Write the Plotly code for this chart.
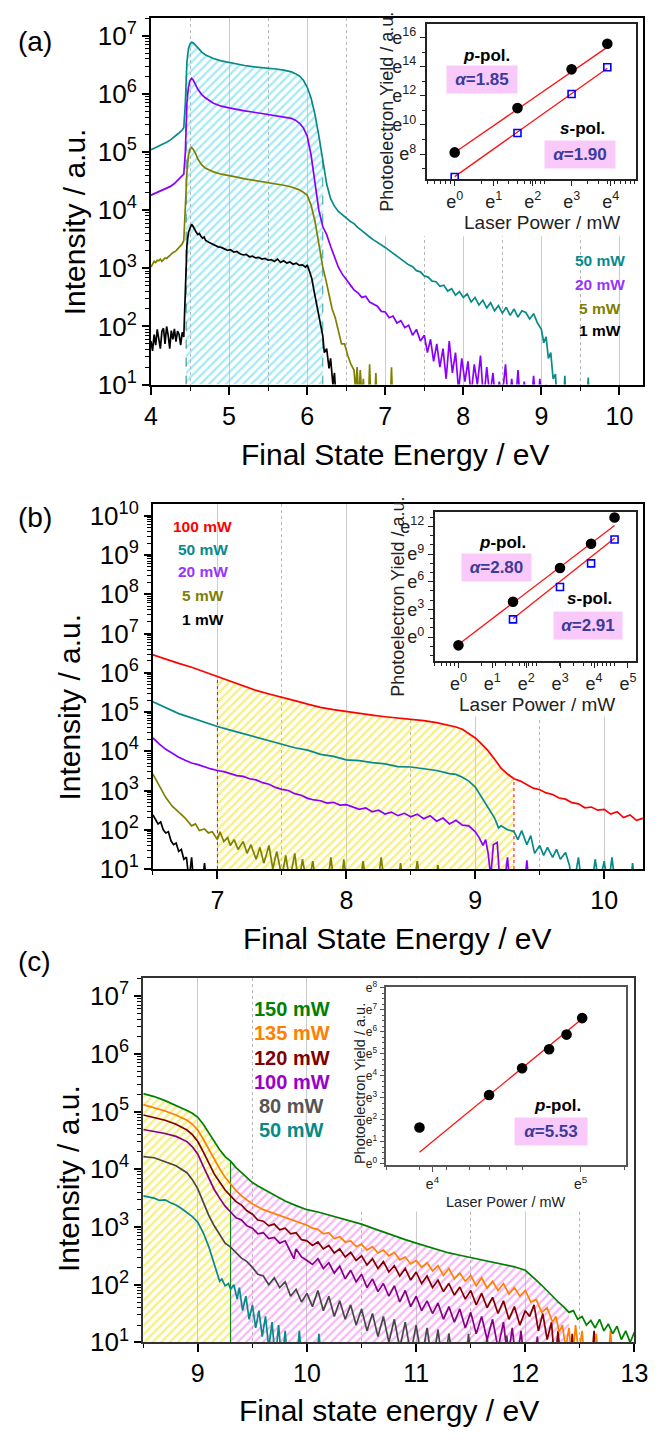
import numpy as np
import plotly.graph_objects as go

# ---------------------------------------------------------------------------
# Panel (a): photoemission spectra, 4-10 eV  (log10 of intensity)
# ---------------------------------------------------------------------------
a_energy_50 = [4.00, 4.05, 4.10, 4.15, 4.20, 4.25, 4.30, 4.35, 4.40, 4.42, 4.44, 4.45, 4.46, 4.48,
               4.50, 4.52, 4.54, 4.57, 4.60, 4.65, 4.70, 4.80, 4.90, 5.00, 5.10, 5.20, 5.30, 5.40,
               5.50, 5.60, 5.70, 5.80, 5.85, 5.90, 5.95, 6.00, 6.05, 6.10, 6.15, 6.20, 6.25, 6.30,
               6.35, 6.40, 6.45,
               6.50, 6.55, 6.60, 6.65, 6.70, 6.75, 6.80, 6.85, 6.90, 6.95, 7.00, 7.05, 7.10, 7.15,
               7.20, 7.25, 7.30, 7.35, 7.40, 7.45, 7.50, 7.55, 7.60, 7.65, 7.70, 7.75, 7.80, 7.85,
               7.90, 7.95, 8.00, 8.05, 8.10, 8.15, 8.20, 8.25, 8.30, 8.35, 8.40, 8.45, 8.50, 8.55,
               8.60, 8.65, 8.70, 8.75, 8.80, 8.85, 8.90, 8.95, 9.00, 9.03, 9.06, 9.09, 9.12, 9.15,
               9.18, 9.20, 9.28, 9.30, 9.32, 9.58, 9.60, 9.62]
a_log_50 = [5.04, 5.07, 5.10, 5.13, 5.17, 5.21, 5.26, 5.32, 5.38, 5.42, 5.85, 6.30, 6.55, 6.78,
            6.86, 6.89, 6.88, 6.84, 6.79, 6.72, 6.67, 6.61, 6.57, 6.54, 6.51, 6.49, 6.47, 6.46,
            6.45, 6.43, 6.41, 6.38, 6.35, 6.31, 6.24, 6.12, 5.93, 5.65, 5.28, 4.85, 4.45, 4.20,
            4.07, 3.98, 3.92,
            3.87, 3.81, 3.77, 3.70, 3.65, 3.59, 3.54, 3.49, 3.45, 3.40, 3.36, 3.31, 3.26, 3.22,
            3.16, 3.12, 3.06, 3.03, 2.96, 2.94, 2.87, 2.85, 2.78, 2.77, 2.69, 2.71, 2.61, 2.65,
            2.54, 2.60, 2.50, 2.56, 2.42, 2.50, 2.37, 2.45, 2.32, 2.41, 2.27, 2.36, 2.23, 2.33,
            2.19, 2.30, 2.16, 2.27, 2.24, 2.13, 2.22, 2.06, 1.95, 1.72, 1.82, 1.45, 1.55, 1.10,
            1.18, 0.70, 0.50, 1.15, 0.50, 0.50, 1.12, 0.50]

a_energy_20 = [4.00, 4.05, 4.10, 4.15, 4.20, 4.25, 4.30, 4.35, 4.40, 4.42, 4.44, 4.45, 4.46, 4.48,
               4.50, 4.52, 4.54, 4.57, 4.60, 4.65, 4.70, 4.80, 4.90, 5.00, 5.10, 5.20, 5.30, 5.40,
               5.50, 5.60, 5.70, 5.80, 5.85, 5.90, 5.95, 6.00, 6.05, 6.10, 6.15, 6.20,
               6.25, 6.30, 6.35, 6.40, 6.45, 6.50, 6.55, 6.60, 6.65, 6.70, 6.75, 6.80, 6.85, 6.90,
               6.95, 7.00, 7.05, 7.10, 7.15, 7.20, 7.25, 7.30, 7.35, 7.40, 7.45, 7.50,
               7.54, 7.58, 7.62, 7.66, 7.70, 7.74, 7.78, 7.82, 7.86, 7.90, 7.94, 7.98, 8.02, 8.06,
               8.10, 8.14, 8.18, 8.22, 8.26, 8.30, 8.34, 8.38, 8.42, 8.46, 8.50, 8.54, 8.58, 8.62,
               8.66, 8.70, 8.74, 8.78, 8.82, 8.86, 8.90, 8.94, 8.98, 9.02, 9.06, 9.10]
a_log_20 = [4.26, 4.29, 4.31, 4.34, 4.37, 4.41, 4.46, 4.52, 4.58, 4.62, 5.00, 5.50, 5.85, 6.12,
            6.23, 6.27, 6.24, 6.16, 6.08, 5.99, 5.93, 5.84, 5.79, 5.76, 5.73, 5.71, 5.69, 5.67,
            5.65, 5.63, 5.61, 5.58, 5.55, 5.50, 5.42, 5.28, 4.95, 4.45, 4.00, 3.72,
            3.58, 3.38, 3.20, 3.02, 2.90, 2.80, 2.72, 2.63, 2.58, 2.50, 2.52, 2.42, 2.38, 2.35,
            2.26, 2.25, 2.15, 2.18, 2.06, 2.10, 1.98, 2.02, 1.85, 1.95, 1.75, 1.85,
            1.55, 1.78, 1.40, 1.70, 1.30, 1.62, 1.10, 1.75, 1.20, 1.55, 0.90, 1.45, 1.05, 1.40,
            0.80, 1.35, 1.00, 1.50, 0.70, 1.30, 0.80, 1.20, 0.60, 1.05, 0.80, 1.35, 0.60, 1.10,
            0.50, 1.25, 0.50, 1.05, 0.60, 0.50, 1.15, 0.50, 1.10, 0.50, 1.00, 0.50]

a_energy_5 = [4.00, 4.02, 4.04, 4.06, 4.08, 4.10, 4.12, 4.14, 4.16, 4.18, 4.20, 4.24, 4.28, 4.32,
              4.36, 4.40, 4.42, 4.44, 4.45, 4.46, 4.48, 4.50, 4.52, 4.54, 4.57, 4.60, 4.65, 4.70,
              4.80, 4.90, 5.00, 5.10, 5.20, 5.30, 5.40, 5.50, 5.60, 5.70, 5.80, 5.85, 5.90, 5.95,
              6.00, 6.05, 6.10, 6.15, 6.20,
              6.24, 6.28, 6.32, 6.36, 6.40, 6.44, 6.48, 6.52, 6.56, 6.60, 6.62, 6.64, 6.66, 6.68,
              6.70, 6.72, 6.74, 6.78, 6.80, 6.82, 6.86, 6.88, 6.90, 7.06, 7.08, 7.10]
a_log_5 = [3.02, 3.08, 3.12, 3.10, 3.14, 3.13, 3.16, 3.12, 3.15, 3.18, 3.17, 3.22, 3.27, 3.30,
           3.36, 3.42, 3.48, 3.95, 4.35, 4.65, 4.95, 5.05, 5.08, 5.05, 4.98, 4.88, 4.78, 4.72,
           4.66, 4.62, 4.60, 4.57, 4.54, 4.52, 4.49, 4.47, 4.45, 4.43, 4.40, 4.38, 4.35, 4.31,
           4.26, 4.09, 3.81, 3.42, 3.02,
           2.80, 2.55, 2.30, 2.15, 1.90, 1.70, 1.70, 1.50, 1.35, 1.25, 0.90, 1.30, 0.70, 1.25,
           0.80, 1.10, 0.50, 0.50, 1.35, 0.50, 0.50, 1.20, 0.50, 0.50, 1.30, 0.50]

a_energy_1 = [4.00, 4.02, 4.04, 4.06, 4.08, 4.10, 4.12, 4.14, 4.16, 4.18, 4.20, 4.22, 4.24, 4.26,
              4.28, 4.30, 4.32, 4.34, 4.36, 4.38, 4.40, 4.42,
              4.44, 4.45, 4.46, 4.48, 4.50, 4.52, 4.54, 4.56, 4.58, 4.60, 4.62, 4.64, 4.66, 4.68,
              4.70,
              4.74, 4.78, 4.82, 4.86, 4.90, 4.94, 4.98, 5.02, 5.06, 5.10, 5.14, 5.18, 5.22, 5.26,
              5.30, 5.34, 5.38, 5.42, 5.46, 5.50, 5.54, 5.58, 5.62, 5.66, 5.70, 5.74, 5.78, 5.82,
              5.86, 5.90, 5.94, 5.98,
              6.00, 6.03, 6.06, 6.09, 6.12, 6.15, 6.18, 6.20, 6.22, 6.25, 6.28, 6.30, 6.33, 6.35,
              6.38]
a_log_1 = [1.75, 1.58, 1.86, 1.68, 1.95, 1.78, 1.62, 1.92, 1.97, 1.70, 2.00, 1.85, 1.62, 1.93,
           1.78, 1.96, 1.74, 1.92, 1.86, 1.68, 1.90, 1.82,
           2.60, 3.10, 3.40, 3.62, 3.70, 3.76, 3.72, 3.66, 3.62, 3.58, 3.60, 3.55, 3.52, 3.54,
           3.48,
           3.45, 3.42, 3.40, 3.37, 3.36, 3.33, 3.31, 3.32, 3.28, 3.29, 3.25, 3.23, 3.24, 3.20,
           3.21, 3.18, 3.19, 3.16, 3.17, 3.14, 3.15, 3.12, 3.16, 3.10, 3.13, 3.09, 3.11, 3.07,
           3.09, 3.05, 3.06, 3.02,
           3.06, 2.95, 2.82, 2.60, 2.40, 2.15, 1.95, 1.84, 1.55, 1.62, 1.28, 1.45, 1.00, 1.20,
           0.50]

# ---------------------------------------------------------------------------
# Panel (b): spectra, 6.5-10.3 eV
# ---------------------------------------------------------------------------
b_energy_100 = [6.50, 6.60, 6.70, 6.80, 6.90, 7.00, 7.10, 7.20, 7.30, 7.40, 7.50, 7.60, 7.70, 7.80,
                7.90, 8.00, 8.10, 8.20, 8.30, 8.40, 8.50, 8.60, 8.70, 8.80,
                8.85, 8.90, 8.95, 9.00, 9.05, 9.10, 9.15, 9.20, 9.25, 9.30, 9.35, 9.40, 9.45, 9.50,
                9.55, 9.60, 9.65, 9.70, 9.75, 9.80, 9.85, 9.90, 9.95, 10.00, 10.05, 10.10, 10.15,
                10.20, 10.25, 10.30]
b_log_100 = [6.46, 6.34, 6.24, 6.14, 6.02, 5.89, 5.77, 5.65, 5.55, 5.46, 5.38, 5.29, 5.20, 5.12,
             5.06, 5.01, 4.96, 4.92, 4.88, 4.85, 4.82, 4.78, 4.73, 4.66,
             4.62, 4.56, 4.46, 4.34, 4.18, 4.01, 3.80, 3.57, 3.42, 3.30, 3.24, 3.16, 3.06, 3.02,
             2.94, 2.90, 2.81, 2.78, 2.69, 2.66, 2.56, 2.58, 2.50, 2.52, 2.40, 2.46, 2.31,
             2.38, 2.24, 2.29]

b_energy_50 = [6.50, 6.60, 6.70, 6.80, 6.90, 7.00, 7.10, 7.20, 7.30, 7.40, 7.50, 7.60, 7.70, 7.80,
               7.90, 8.00, 8.10, 8.20, 8.30, 8.40, 8.50, 8.60, 8.70, 8.80,
               8.85, 8.90, 8.95, 9.00, 9.05, 9.10, 9.15, 9.18, 9.20, 9.25, 9.30,
               9.33, 9.36, 9.40, 9.43, 9.46, 9.50, 9.53, 9.56, 9.60, 9.63, 9.66, 9.70, 9.73, 9.76,
               9.80, 9.83, 9.90, 9.93, 9.96, 10.00, 10.03, 10.06, 10.09, 10.20, 10.22, 10.24]
b_log_50 = [5.26, 5.10, 4.96, 4.85, 4.73, 4.63, 4.54, 4.45, 4.37, 4.27, 4.19, 4.09, 4.03, 3.92,
            3.87, 3.78, 3.76, 3.71, 3.68, 3.61, 3.60, 3.55, 3.51, 3.43,
            3.41, 3.34, 3.24, 3.09, 2.82, 2.55, 2.30, 2.05, 2.10, 2.00, 1.96,
            1.75, 1.98, 1.62, 1.85, 1.40, 1.60, 1.35, 1.55, 1.30, 1.50, 1.25, 1.42, 1.10, 0.50,
            1.30, 0.50, 0.50, 1.25, 0.60, 1.20, 0.50, 1.30, 0.50, 0.50, 1.15, 0.50]

b_energy_20 = [6.50, 6.55, 6.60, 6.65, 6.70, 6.75, 6.80, 6.85, 6.90, 6.95, 7.00, 7.05, 7.10, 7.15,
               7.20, 7.25, 7.30, 7.35, 7.40, 7.45, 7.50, 7.55, 7.60, 7.65, 7.70, 7.75, 7.80, 7.85,
               7.90, 7.95, 8.00, 8.05, 8.10, 8.15, 8.20, 8.25, 8.30, 8.35, 8.40, 8.45, 8.50, 8.55,
               8.60, 8.65, 8.70, 8.75, 8.80, 8.85, 8.90, 8.95,
               9.00, 9.03, 9.06, 9.08, 9.10, 9.12, 9.14, 9.17, 9.19, 9.22, 9.25, 9.27, 9.38, 9.40,
               9.42]
b_log_20 = [4.34, 4.18, 4.05, 3.94, 3.85, 3.77, 3.70, 3.66, 3.60, 3.55, 3.51, 3.48, 3.43, 3.38,
            3.36, 3.30, 3.27, 3.20, 3.16, 3.08, 3.03, 3.00, 2.92, 2.88, 2.80, 2.76, 2.74, 2.68,
            2.70, 2.63, 2.64, 2.58, 2.52, 2.56, 2.46, 2.50, 2.40, 2.45, 2.36, 2.42, 2.33, 2.40,
            2.28, 2.36, 2.22, 2.30, 2.15, 2.24, 2.12, 2.10,
            1.95, 1.80, 1.60, 1.75, 1.40, 0.80, 1.62, 1.68, 0.70, 0.50, 1.30, 0.50, 0.50, 1.22,
            0.50]

b_energy_5 = [6.50, 6.55, 6.60, 6.65, 6.70, 6.75, 6.80, 6.83, 6.86, 6.90, 6.93, 6.96, 7.00, 7.02,
              7.05, 7.08, 7.10, 7.13, 7.16, 7.20, 7.23, 7.26, 7.30, 7.33, 7.36, 7.40, 7.43, 7.46,
              7.50, 7.53, 7.56, 7.60, 7.63, 7.66, 7.70, 7.74, 7.77, 7.85, 7.88, 7.91, 7.96, 7.98,
              8.01, 8.10, 8.13, 8.16, 8.24, 8.27, 8.30, 8.40, 8.42, 8.45, 8.52, 8.55, 8.58, 8.68,
              8.71, 8.74]
b_log_5 = [3.42, 3.10, 2.82, 2.60, 2.45, 2.30, 2.10, 2.15, 1.98, 2.02, 1.92, 1.95, 1.75, 1.95,
           1.70, 1.80, 1.60, 1.75, 1.50, 1.70, 1.40, 1.62, 1.25, 1.55, 1.15, 1.60, 1.00, 1.45,
           0.80, 1.35, 0.70, 1.40, 0.60, 1.25, 0.50, 1.20, 0.50, 0.50, 1.30, 0.50, 0.50, 1.25,
           0.50, 0.50, 1.20, 0.50, 0.50, 1.30, 0.50, 0.50, 1.15, 0.50, 0.50, 1.20, 0.50, 0.50,
           1.10, 0.50]

b_energy_1 = [6.50, 6.52, 6.54, 6.56, 6.58, 6.60, 6.62, 6.64, 6.66, 6.68, 6.70, 6.72, 6.74, 6.76,
              6.78, 6.80, 6.82, 6.88, 6.90, 6.92]
b_log_1 = [2.38, 2.28, 2.15, 2.20, 2.00, 1.92, 1.95, 1.72, 1.62, 1.66, 1.45, 1.50, 1.25, 1.30,
           0.70, 1.30, 0.50, 0.50, 1.15, 0.50]

# ---------------------------------------------------------------------------
# Panel (c): spectra, 8.5-13 eV
# ---------------------------------------------------------------------------
c_energy_150 = [8.50, 8.60, 8.70, 8.80, 8.85, 8.90, 8.95, 9.00, 9.05, 9.10, 9.15, 9.20, 9.25, 9.30,
                9.35, 9.40, 9.45, 9.50, 9.55, 9.60, 9.70, 9.80, 9.90, 10.00, 10.10, 10.20, 10.30,
                10.40, 10.50, 10.60, 10.70, 10.80, 10.90, 11.00, 11.10, 11.20, 11.30, 11.40, 11.50,
                11.60, 11.70, 11.80, 11.90, 12.00, 12.05, 12.10, 12.15, 12.20, 12.25, 12.30, 12.35,
                12.40, 12.44, 12.48, 12.52, 12.56, 12.60, 12.64, 12.68, 12.72, 12.76, 12.80, 12.84,
                12.88, 12.92, 12.96, 13.00]
c_log_150 = [5.31, 5.26, 5.19, 5.11, 5.07, 5.02, 4.97, 4.90, 4.78, 4.63, 4.48, 4.34, 4.22, 4.14,
             4.03, 3.94, 3.85, 3.77, 3.71, 3.66, 3.55, 3.45, 3.37, 3.30, 3.26, 3.21, 3.16,
             3.10, 3.05, 2.98, 2.91, 2.85, 2.78, 2.72, 2.66, 2.61, 2.55, 2.51, 2.47,
             2.43, 2.38, 2.34, 2.31, 2.25, 2.17, 2.08, 1.99, 1.90, 1.80, 1.70, 1.62,
             1.52, 1.55, 1.40, 1.45, 1.30, 1.38, 1.25, 1.40, 1.20, 1.32, 1.15, 1.28,
             1.05, 1.20, 1.00, 1.18]

c_energy_135 = [8.50, 8.60, 8.70, 8.80, 8.90, 8.95, 9.00, 9.05, 9.10, 9.15, 9.20, 9.25, 9.30, 9.35,
                9.40, 9.50, 9.60, 9.70, 9.80, 9.90,
                10.00, 10.05, 10.10, 10.15, 10.20, 10.25, 10.30, 10.35, 10.40, 10.45, 10.50, 10.55,
                10.60, 10.65, 10.70, 10.75, 10.80, 10.85, 10.90, 10.95, 11.00, 11.05, 11.10, 11.15,
                11.20, 11.25, 11.30, 11.35, 11.40, 11.45, 11.50, 11.55, 11.60, 11.65, 11.70, 11.75,
                11.80, 11.85, 11.90, 11.95, 12.00,
                12.05, 12.10, 12.15, 12.20, 12.25, 12.28, 12.31, 12.34, 12.37, 12.40, 12.43, 12.46,
                12.49, 12.52, 12.55, 12.62, 12.65, 12.68, 12.75, 12.78, 12.81]
c_log_135 = [5.12, 5.07, 5.01, 4.94, 4.85, 4.78, 4.68, 4.52, 4.35, 4.17, 4.01, 3.86, 3.74, 3.63,
             3.54, 3.40, 3.30, 3.23, 3.17, 3.10,
             3.03, 2.98, 2.96, 2.88, 2.90, 2.80, 2.83, 2.74, 2.76, 2.66, 2.70, 2.60,
             2.66, 2.55, 2.60, 2.50, 2.56, 2.43, 2.48, 2.36, 2.42, 2.30, 2.38, 2.24,
             2.33, 2.16, 2.28, 2.10, 2.20, 2.06, 2.16, 1.98, 2.12, 1.94, 2.06, 1.90,
             2.02, 1.84, 1.95, 1.80, 1.90,
             1.70, 1.74, 1.52, 1.60, 1.35, 1.45, 1.18, 1.30, 0.90, 1.25, 0.60, 1.30,
             0.80, 1.20, 0.50, 0.50, 1.15, 0.50, 0.50, 1.20, 0.50]

c_energy_120 = [8.50, 8.60, 8.70, 8.80, 8.90, 8.95, 9.00, 9.05, 9.10, 9.15,
                9.20, 9.25, 9.30, 9.35, 9.40, 9.45, 9.50, 9.55, 9.60, 9.65, 9.70, 9.75, 9.80, 9.85,
                9.90, 9.95, 10.00, 10.05, 10.10, 10.15, 10.20, 10.25, 10.30, 10.35, 10.40, 10.45,
                10.50, 10.55, 10.60, 10.65, 10.70, 10.75, 10.80, 10.85, 10.90, 10.95, 11.00, 11.05,
                11.10, 11.15, 11.20, 11.25, 11.30, 11.35, 11.40, 11.45, 11.50, 11.55, 11.60, 11.65,
                11.70, 11.75, 11.80, 11.85, 11.90, 11.95, 12.00,
                12.04, 12.08, 12.12, 12.16, 12.20, 12.24, 12.27, 12.30, 12.33, 12.40, 12.43, 12.46,
                12.60, 12.63, 12.66]
c_log_120 = [4.94, 4.89, 4.85, 4.78, 4.68, 4.60, 4.48, 4.30, 4.10, 3.92,
             3.78, 3.64, 3.54, 3.44, 3.38, 3.28, 3.22, 3.12, 3.10, 3.02, 3.05, 2.95, 2.98, 2.88,
             2.90, 2.78, 2.76, 2.68, 2.74, 2.62, 2.68, 2.55, 2.62, 2.48, 2.56, 2.42,
             2.50, 2.34, 2.45, 2.28, 2.40, 2.22, 2.33, 2.15, 2.28, 2.08, 2.22, 2.02,
             2.15, 1.95, 2.08, 1.88, 2.02, 1.82, 1.96, 1.75, 1.90, 1.65, 1.85, 1.60,
             1.78, 1.50, 1.72, 1.40, 1.62, 1.30, 1.55,
             1.45, 1.65, 1.20, 1.50, 1.05, 1.35, 0.60, 1.20, 0.50, 0.50, 1.15, 0.50,
             0.50, 1.20, 0.50]

c_energy_100 = [8.50, 8.60, 8.70, 8.80, 8.90, 8.95, 9.00, 9.05, 9.10, 9.15,
                9.20, 9.25, 9.30, 9.35, 9.40, 9.45, 9.50, 9.55, 9.60, 9.65, 9.70, 9.75, 9.80, 9.85,
                9.88,
                9.90, 9.95, 10.00, 10.05, 10.10, 10.15, 10.20, 10.25, 10.30, 10.35, 10.40, 10.45,
                10.50, 10.55, 10.60, 10.65, 10.70, 10.75, 10.80, 10.85, 10.90, 10.95, 11.00, 11.05,
                11.10, 11.15, 11.20, 11.25, 11.30, 11.35, 11.40, 11.45, 11.50, 11.55, 11.60, 11.65,
                11.70, 11.75, 11.80,
                11.84, 11.88, 11.92, 11.96, 12.00, 12.08, 12.11, 12.14]
c_log_100 = [4.69, 4.66, 4.62, 4.57, 4.48, 4.39, 4.26, 4.05, 3.84, 3.65,
             3.50, 3.36, 3.26, 3.16, 3.12, 3.02, 2.98, 2.88, 2.90, 2.80, 2.82, 2.72, 2.76, 2.58,
             2.45,
             2.62, 2.48, 2.42, 2.35, 2.45, 2.28, 2.38, 2.20, 2.32, 2.10, 2.25, 2.05,
             2.18, 1.95, 2.10, 1.88, 2.02, 1.80, 1.98, 1.70, 1.90, 1.62, 1.80, 1.55,
             1.72, 1.50, 1.68, 1.40, 1.62, 1.35, 1.58, 1.25, 1.52, 1.15, 1.45, 1.05,
             1.40, 0.90, 1.35,
             0.70, 1.25, 0.60, 1.20, 0.50, 0.50, 1.10, 0.50]

c_energy_80 = [8.50, 8.60, 8.70, 8.80, 8.90, 8.95, 9.00, 9.05, 9.10, 9.15,
               9.20, 9.25, 9.30, 9.35, 9.40, 9.45, 9.50, 9.55, 9.60, 9.65, 9.70, 9.75, 9.80, 9.85,
               9.90, 9.95, 10.00, 10.05, 10.10, 10.15, 10.20, 10.25, 10.30, 10.35, 10.40, 10.45,
               10.50, 10.55, 10.60, 10.65, 10.70, 10.75, 10.80, 10.85, 10.90, 10.95, 11.00, 11.05,
               11.10, 11.15, 11.20, 11.25, 11.30, 11.35,
               11.45, 11.48, 11.51, 11.62, 11.65, 11.68, 11.80, 11.83, 11.86]
c_log_80 = [4.22, 4.20, 4.13, 4.06, 3.94, 3.82, 3.66, 3.42, 3.20, 3.02,
            2.88, 2.72, 2.65, 2.55, 2.46, 2.40, 2.30, 2.18, 2.15, 2.00, 2.12, 1.95, 2.05, 1.80,
            1.92, 1.70, 1.85, 1.62, 1.90, 1.55, 1.80, 1.45, 1.72, 1.40, 1.65, 1.30,
            1.58, 1.20, 1.50, 1.10, 1.45, 1.00, 1.40, 0.90, 1.35, 0.80, 1.30, 0.70,
            1.25, 0.60, 1.22, 0.50, 1.15, 0.50,
            0.50, 1.15, 0.50, 0.50, 1.10, 0.50, 0.50, 1.12, 0.50]

c_energy_50 = [8.50, 8.55, 8.60, 8.65, 8.70, 8.75, 8.80, 8.85, 8.90, 8.95,
               9.00, 9.05, 9.10, 9.15, 9.20, 9.22, 9.25, 9.28, 9.30, 9.33,
               9.36, 9.38, 9.41, 9.44, 9.47, 9.50, 9.53, 9.56, 9.59, 9.62,
               9.65, 9.68, 9.71, 9.74, 9.77, 9.80, 9.83, 9.90, 9.93, 9.96,
               10.08, 10.11, 10.14]
c_log_50 = [3.54, 3.52, 3.50, 3.46, 3.47, 3.42, 3.38, 3.32, 3.25, 3.18,
            3.08, 2.90, 2.66, 2.36, 2.06, 2.10, 1.98, 2.02, 1.92, 2.00,
            1.75, 1.95, 1.55, 1.80, 1.40, 1.65, 1.25, 1.55, 1.10, 1.45,
            0.90, 1.35, 0.70, 1.30, 0.60, 1.20, 0.50, 0.50, 1.20, 0.50,
            0.50, 1.15, 0.50]

# ---------------------------------------------------------------------------
# Inset data: photoelectron yield (natural log) vs laser power (mW)
# ---------------------------------------------------------------------------
ia_power = [1, 5, 20, 50]
ia_lnyield_p = [8.11, 11.15, 13.81, 15.57]
ia_lnyield_s = [6.42, 9.44, 12.12, 13.95]
ia_alpha_p, ia_icpt_p = 1.85, 8.10
ia_alpha_s, ia_icpt_s = 1.90, 6.45

ib_power_p = [1, 5, 20, 50, 100]
ib_lnyield_p = [-0.89, 3.83, 7.49, 10.12, 12.96]
ib_power_s = [5, 20, 50, 100]
ib_lnyield_s = [1.92, 5.43, 7.99, 10.58]
ib_alpha_p, ib_icpt_p = 2.80, -0.80
ib_alpha_s, ib_icpt_s = 2.91, -2.70

ic_power = [50, 80, 100, 120, 135, 150]
ic_lnyield_p = [1.64, 3.12, 4.34, 5.20, 5.87, 6.62]
ic_alpha_p, ic_icpt_p = 5.53, -21.12

# ---------------------------------------------------------------------------
# Layout geometry (pixels on a 663 x 1443 page)
# ---------------------------------------------------------------------------
W, H = 663, 1443
FONT = "Liberation Sans, Arial, Helvetica, sans-serif"

A_BOX = (148.7, 10.0, 656.7, 382.7)
B_BOX = (150.7, 504.0, 656.7, 875.0)
C_BOX = (140.7, 986.0, 648.0, 1356.0)
AI_BOX = (433.3, 16.0, 649.3, 174.0)
BI_BOX = (441.7, 511.7, 649.3, 664.0)
CI_BOX = (391.7, 995.0, 639.3, 1176.0)

A_XR, A_YTOP = [4.0, 10.3], 7.31
B_XR, B_YTOP = [6.5, 10.3], 10.3
C_XR, C_YTOP = [8.5, 13.0], 7.31

Y_LOW = 1.0
FLOOR = 10 ** Y_LOW

TEAL = "#078a8a"
VIOLET = "#8a00ff"
OLIVE = "#808000"
RED = "#ff0000"
GREEN = "#008000"
ORANGE = "#ff8000"
DARKRED = "#800000"
PURPLE = "#870087"
GRAY = "#474747"


def dom_x(box):
    return [box[0] / W, box[2] / W]


def dom_y(box):
    return [1 - box[3] / H, 1 - box[1] / H]


def pxp(x, y):
    return x / W, 1 - y / H


fig = go.Figure()


def add_backing(box, xr, ytop, left_px, bottom_px, xa, ya):
    """White panel inside a main plot that hides its grid lines behind an inset."""
    fx = (left_px - box[0]) / (box[2] - box[0])
    fy = (box[3] - bottom_px) / (box[3] - box[1])
    x0 = xr[0] + fx * (xr[1] - xr[0])
    y0 = 10 ** (Y_LOW + fy * (ytop - Y_LOW))
    x1, y1 = xr[1], 10 ** ytop
    fig.add_trace(go.Scatter(x=[x0, x1, x1, x0, x0], y=[y0, y0, y1, y1, y0],
                             fill="toself", fillcolor="white", mode="none",
                             xaxis=xa, yaxis=ya, showlegend=False, hoverinfo="skip"))


def add_curve(E, L, color, xa, ya, width=1.7):
    assert len(E) == len(L)
    fig.add_trace(go.Scatter(x=E, y=np.power(10.0, L), mode="lines",
                             line=dict(color=color, width=width),
                             xaxis=xa, yaxis=ya, showlegend=False, hoverinfo="skip"))


def add_hatch(E, L, lo, hi, color, xa, ya):
    E = np.asarray(E, dtype=float)
    I = np.power(10.0, np.asarray(L, dtype=float))
    sel = (E >= lo - 1e-9) & (E <= hi + 1e-9)
    xs = list(E[sel]) + [hi, lo]
    ys = list(I[sel]) + [FLOOR, FLOOR]
    fig.add_trace(go.Scatter(x=xs, y=ys, fill="toself", mode="none",
                             fillcolor="rgba(255,255,255,0)",
                             fillpattern=dict(shape="/", fgcolor=color,
                                              bgcolor="rgba(255,255,255,0)",
                                              size=6, solidity=0.4),
                             xaxis=xa, yaxis=ya, showlegend=False, hoverinfo="skip"))


def add_edge(E, L, x0, color, dash, xa, ya, width=1.0):
    i = int(np.argmin(np.abs(np.asarray(E) - x0)))
    fig.add_trace(go.Scatter(x=[E[i], E[i]], y=[FLOOR, 10 ** L[i]], mode="lines",
                             line=dict(color=color, width=width, dash=dash),
                             xaxis=xa, yaxis=ya, showlegend=False, hoverinfo="skip"))


# ---- panel (a)
add_backing(A_BOX, A_XR, A_YTOP, 382, 232, "x", "y")
add_hatch(a_energy_50, a_log_50, 4.45, 6.20, "#4ed6ea", "x", "y")
add_edge(a_energy_50, a_log_50, 4.45, "#2f7f86", "dash", "x", "y")
add_edge(a_energy_50, a_log_50, 6.20, "#2f9fa6", "dash", "x", "y")
add_curve(a_energy_1, a_log_1, "black", "x", "y")
add_curve(a_energy_5, a_log_5, OLIVE, "x", "y")
add_curve(a_energy_20, a_log_20, VIOLET, "x", "y")
add_curve(a_energy_50, a_log_50, TEAL, "x", "y")

# ---- panel (b)
add_backing(B_BOX, B_XR, B_YTOP, 390, 720, "x3", "y3")
add_hatch(b_energy_100, b_log_100, 7.0, 9.3, "#f0e000", "x3", "y3")
add_edge(b_energy_100, b_log_100, 7.0, RED, "dot", "x3", "y3")
add_edge(b_energy_100, b_log_100, 9.3, RED, "dot", "x3", "y3")
add_curve(b_energy_1, b_log_1, "black", "x3", "y3")
add_curve(b_energy_5, b_log_5, OLIVE, "x3", "y3")
add_curve(b_energy_20, b_log_20, VIOLET, "x3", "y3")
add_curve(b_energy_50, b_log_50, TEAL, "x3", "y3")
add_curve(b_energy_100, b_log_100, RED, "x3", "y3")

# ---- panel (c)
add_backing(C_BOX, C_XR, C_YTOP, 352, 1223, "x5", "y5")
add_hatch(c_energy_150, c_log_150, 8.5, 9.3, "#f0e000", "x5", "y5")
add_hatch(c_energy_150, c_log_150, 9.3, 12.4, "#ee72ee", "x5", "y5")
add_edge(c_energy_150, c_log_150, 9.3, GREEN, "solid", "x5", "y5")
add_curve(c_energy_50, c_log_50, TEAL, "x5", "y5")
add_curve(c_energy_80, c_log_80, GRAY, "x5", "y5")
add_curve(c_energy_100, c_log_100, PURPLE, "x5", "y5")
add_curve(c_energy_120, c_log_120, DARKRED, "x5", "y5")
add_curve(c_energy_135, c_log_135, ORANGE, "x5", "y5")
add_curve(c_energy_150, c_log_150, GREEN, "x5", "y5")


# ---- insets
def add_fit(x_lo, x_hi, slope, icpt, xa, ya):
    xs = [x_lo, x_hi]
    fig.add_trace(go.Scatter(x=xs, y=[icpt + slope * v for v in xs], mode="lines",
                             line=dict(color="#ff1010", width=1.3),
                             xaxis=xa, yaxis=ya, showlegend=False, hoverinfo="skip"))


def add_pts(lnP, lnY, xa, ya, symbol, color, size):
    fig.add_trace(go.Scatter(x=lnP, y=lnY, mode="markers",
                             marker=dict(symbol=symbol, color=color, size=size,
                                         line=dict(color=color, width=1.6)),
                             xaxis=xa, yaxis=ya, showlegend=False, hoverinfo="skip"))


ln_a = list(np.log(ia_power))
add_fit(ln_a[0], ln_a[-1], ia_alpha_p, ia_icpt_p, "x2", "y2")
add_fit(ln_a[0], ln_a[-1], ia_alpha_s, ia_icpt_s, "x2", "y2")
add_pts(ln_a, ia_lnyield_p, "x2", "y2", "circle", "black", 9)
add_pts(ln_a, ia_lnyield_s, "x2", "y2", "square-open", "#0000ff", 7)

ln_bp = list(np.log(ib_power_p))
ln_bs = list(np.log(ib_power_s))
add_fit(ln_bp[0], ln_bp[-1], ib_alpha_p, ib_icpt_p, "x4", "y4")
add_fit(ln_bs[0], ln_bs[-1], ib_alpha_s, ib_icpt_s, "x4", "y4")
add_pts(ln_bp, ib_lnyield_p, "x4", "y4", "circle", "black", 9)
add_pts(ln_bs, ib_lnyield_s, "x4", "y4", "square-open", "#0000ff", 7)

ln_c = list(np.log(ic_power))
add_fit(ln_c[0], ln_c[-1], ic_alpha_p, ic_icpt_p, "x6", "y6")
add_pts(ln_c, ic_lnyield_p, "x6", "y6", "circle", "black", 9)


# ---------------------------------------------------------------------------
# Axes
# ---------------------------------------------------------------------------
def main_x(box, rng, anchor, line="black"):
    return dict(domain=dom_x(box), range=rng, anchor=anchor, dtick=1, tick0=0,
                ticks="outside", ticklen=8, tickwidth=1.5, tickcolor="black",
                showline=True, linecolor=line, linewidth=1.8, mirror=True,
                showgrid=True, gridcolor="#cbcbcb", gridwidth=1.3, zeroline=False,
                tickfont=dict(size=25, color="black", family=FONT),
                minor=dict(dtick=0.5, tick0=0, ticks="outside", ticklen=4, tickwidth=1.2,
                           tickcolor="black", showgrid=True, gridcolor="#b8b8b8",
                           gridwidth=1, griddash="dot"))


def main_y(box, top, anchor, line="black"):
    exps = list(range(1, int(np.floor(top)) + 1))
    minor_vals = [m * 10 ** k for k in range(1, int(np.floor(top)) + 1) for m in range(2, 10)]
    return dict(domain=dom_y(box), type="log", range=[Y_LOW, top], anchor=anchor,
                tickmode="array", tickvals=[10 ** k for k in exps],
                ticktext=["10<sup>%d</sup>" % k for k in exps],
                ticks="outside", ticklen=7, tickwidth=1.5, tickcolor="black",
                showline=True, linecolor=line, linewidth=1.8, mirror=True,
                showgrid=False, zeroline=False,
                tickfont=dict(size=26, color="black", family=FONT),
                minor=dict(tickmode="array", tickvals=minor_vals, ticks="outside",
                           ticklen=4, tickwidth=1, tickcolor="black", showgrid=False))


minor_powers = [0.5, 0.6, 0.7, 0.8, 0.9, 2, 3, 4, 5, 6, 7, 8, 9, 10, 20, 30, 40, 50, 60, 70,
                80, 90, 100, 200]


def inset_x(box, rng, exps, anchor, fsize, line="#222222"):
    return dict(domain=dom_x(box), range=rng, anchor=anchor, tickmode="array",
                tickvals=exps, ticktext=["e<sup>%d</sup>" % k for k in exps],
                ticks="outside", ticklen=5, tickwidth=1.2, tickcolor=line,
                showline=True, linecolor=line, linewidth=1.5, mirror=True,
                showgrid=False, zeroline=False,
                tickfont=dict(size=fsize, color="#222222", family=FONT),
                minor=dict(tickmode="array", tickvals=list(np.log(minor_powers)),
                           ticks="outside", ticklen=3, tickwidth=1, tickcolor=line))


def inset_y(box, rng, exps, anchor, fsize, mdt, line="#222222"):
    return dict(domain=dom_y(box), range=rng, anchor=anchor, tickmode="array",
                tickvals=exps, ticktext=["e<sup>%d</sup>" % k for k in exps],
                ticks="outside", ticklen=5, tickwidth=1.2, tickcolor=line,
                showline=True, linecolor=line, linewidth=1.5, mirror=True,
                showgrid=False, zeroline=False,
                tickfont=dict(size=fsize, color="#222222", family=FONT),
                minor=dict(dtick=mdt, tick0=0, ticks="outside", ticklen=3, tickwidth=1,
                           tickcolor=line))


fig.update_layout(
    width=W, height=H, margin=dict(l=0, r=0, t=0, b=0),
    paper_bgcolor="white", plot_bgcolor="white", showlegend=False,
    font=dict(family=FONT, color="black"),
    xaxis=main_x(A_BOX, A_XR, "y"),
    yaxis=main_y(A_BOX, A_YTOP, "x"),
    xaxis3=main_x(B_BOX, B_XR, "y3"),
    yaxis3=main_y(B_BOX, B_YTOP, "x3"),
    xaxis5=main_x(C_BOX, C_XR, "y5", line="#333333"),
    yaxis5=main_y(C_BOX, C_YTOP, "x5", line="#333333"),
    xaxis2=inset_x(AI_BOX, [-0.72, 4.64], [0, 1, 2, 3, 4], "y2", 18),
    yaxis2=inset_y(AI_BOX, [6.27, 16.94], [8, 10, 12, 14, 16], "x2", 18, 1),
    xaxis4=inset_x(BI_BOX, [-0.70, 5.23], [0, 1, 2, 3, 4, 5], "y4", 18),
    yaxis4=inset_y(BI_BOX, [-2.63, 13.6], [0, 3, 6, 9, 12], "x4", 18, 1),
    xaxis6=inset_x(CI_BOX, [3.688, 5.307], [4, 5], "y6", 14, line="#555555"),
    yaxis6=inset_y(CI_BOX, [-0.08, 8.03], [0, 1, 2, 3, 4, 5, 6, 7, 8], "x6", 12, 0.25,
                   line="#555555"),
)

# ---------------------------------------------------------------------------
# Text
# ---------------------------------------------------------------------------
ann = []


def text(x, y, s, size, color="black", angle=0, xanchor="center", **kw):
    px_, py_ = pxp(x, y)
    d = dict(x=px_, y=py_, xref="paper", yref="paper", text=s, showarrow=False,
             textangle=angle, xanchor=xanchor, yanchor="middle",
             font=dict(size=size, color=color, family=FONT))
    d.update(kw)
    ann.append(d)


def alpha_box(x, y, w, h, val, size=17):
    text(x, y, "<b><i>α</i>=%.2f</b>" % val, size, color="#3b3b9b",
         bgcolor="#f9c9f9", width=w, height=h, borderpad=0, align="center")


# panel letters
text(29, 34, "(a)", 28)
text(29, 518, "(b)", 28)
text(28, 969, "(c)", 28)

# main axis titles
text(70, 217, "Intensity / a.u.", 30, angle=-90)
text(65, 710, "Intensity / a.u.", 30, angle=-90)
text(63, 1190, "Intensity / a.u.", 30, angle=-90)
text(401, 454, "Final State Energy / eV", 30)
text(403, 946, "Final State Energy / eV", 30)
text(394, 1425, "Final state energy / eV", 30)

# legends
for yy, s, c in [(257, "50 mW", TEAL), (281, "20 mW", "#9933ff"),
                 (305, "5 mW", OLIVE), (328, "1 mW", "black")]:
    text(612, yy, "<b>%s</b>" % s, 15.5, color=c)
for yy, s, c in [(527, "100 mW", RED), (550, "50 mW", TEAL), (573, "20 mW", "#9933ff"),
                 (597, "5 mW", OLIVE), (621, "1 mW", "black")]:
    text(202, yy, "<b>%s</b>" % s, 15.5, color=c)
for yy, s, c in [(1017, "150 mW", GREEN), (1042, "135 mW", ORANGE), (1067, "120 mW", DARKRED),
                 (1091, "100 mW", "#9900cc"), (1116, "80 mW", "#555555"),
                 (1140, "50 mW", TEAL)]:
    text(294, yy, "<b>%s</b>" % s, 20, color=c)

# inset titles
text(393, 106, "Photoelectron Yield / a.u.", 18, color="#222222", angle=-90)
text(552, 218, "Laser Power / mW", 19, color="#222222")
text(404, 598, "Photoelectron Yield / a.u.", 18, color="#222222", angle=-90)
text(547, 708, "Laser Power / mW", 19, color="#222222")
text(364, 1093, "Photoelectron Yield / a.u.", 14.5, color="#222222", angle=-90)
text(515, 1213, "Laser Power / mW", 14.5, color="#222222")

# inset labels
text(495, 48, "<b><i>p</i>-pol.</b>", 17)
alpha_box(491, 73, 70, 27, ia_alpha_p)
text(594, 122, "<b><i>s</i>-pol.</b>", 17)
alpha_box(592, 149, 70, 27, ia_alpha_s)

text(512, 543, "<b><i>p</i>-pol.</b>", 17)
alpha_box(505, 569, 69, 27, ib_alpha_p)
text(602, 600, "<b><i>s</i>-pol.</b>", 17)
alpha_box(600, 628, 68, 27, ib_alpha_s)

text(568, 1115, "<b><i>p</i>-pol.</b>", 17)
alpha_box(562, 1142, 72, 27, ic_alpha_p)

fig.update_layout(annotations=ann)

fig.write_html("out.html")
